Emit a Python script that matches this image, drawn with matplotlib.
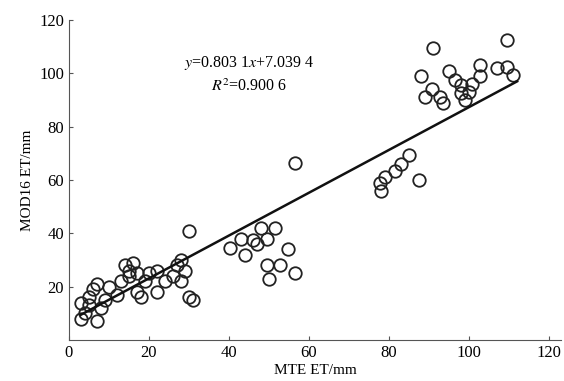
import matplotlib
matplotlib.use("Agg")
import matplotlib.pyplot as plt

plt.rcParams['font.family'] = ['Liberation Serif', 'DejaVu Serif']
plt.rcParams['mathtext.fontset'] = 'stix'

# MTE ET (x) vs MOD16 ET (y), mm
mte_et = [3, 3, 4, 5, 5, 6, 7, 7, 8, 9, 10, 12, 13, 14, 15, 15, 16, 17, 17, 18,
          19, 20, 22, 22, 24, 26, 27, 28, 28, 29, 30, 31, 30,
          40.3, 44, 46, 48, 49.5, 51.5, 49.5, 52.7, 50, 54.7, 56.5, 43, 47, 56.5,
          77.7, 78, 79, 81.5, 83, 85, 87.5,
          91, 109.5, 88, 95, 90.7, 92.7, 89, 98, 98, 102.7, 102.7, 107, 109.5,
          111, 93.5, 100.7, 100, 99, 96.5]
mod16_et = [8, 14, 10, 16, 13, 19, 7, 21, 12, 15, 20, 17, 22, 28, 26, 24, 29, 18, 25, 16,
            22, 25, 18, 26, 22, 24, 28, 30, 22, 26, 16, 15, 41,
            34.5, 32, 37.5, 42, 38, 42, 28, 28, 23, 34, 25, 38, 36, 66.5,
            59, 56, 61, 63.5, 66, 69.5, 60,
            109.5, 112.5, 99, 101, 94, 91, 91, 95.6, 92.6, 103, 99, 102, 102.4,
            99.4, 89, 96, 93, 90, 97.5]

slope = 0.8031
intercept = 7.0394
fit_x = [3, 112]
fit_y = [slope * v + intercept for v in fit_x]

fig = plt.figure(figsize=(5.64, 3.81), dpi=100)
ax = fig.add_axes([0.122, 0.1076, 0.873, 0.84])

ax.plot(mte_et, mod16_et, 'o', ms=9, mfc='none', mec='#222222', mew=1.3)
ax.plot(fit_x, fit_y, color='#111111', lw=1.8)

ax.text(45, 104, r'$y$=0.803 1$x$+7.039 4', ha='center', va='center', fontsize=11.5)
ax.text(45, 95, r'$R^2$=0.900 6', ha='center', va='center', fontsize=11.5)

ax.set_xlim(0, 123)
ax.set_ylim(0, 120)
ax.set_xticks([0, 20, 40, 60, 80, 100, 120])
ax.set_yticks([20, 40, 60, 80, 100, 120])
ax.spines['top'].set_visible(False)
ax.spines['right'].set_visible(False)
ax.spines['left'].set_color('#555555')
ax.spines['bottom'].set_color('#555555')
ax.tick_params(direction='in', length=3, labelsize=12, color='#555555')

ax.set_xlabel('MTE ET/mm', fontsize=11, labelpad=2)
ax.set_ylabel('MOD16 ET/mm', fontsize=11, labelpad=4)

plt.savefig('out.png', dpi=100)
